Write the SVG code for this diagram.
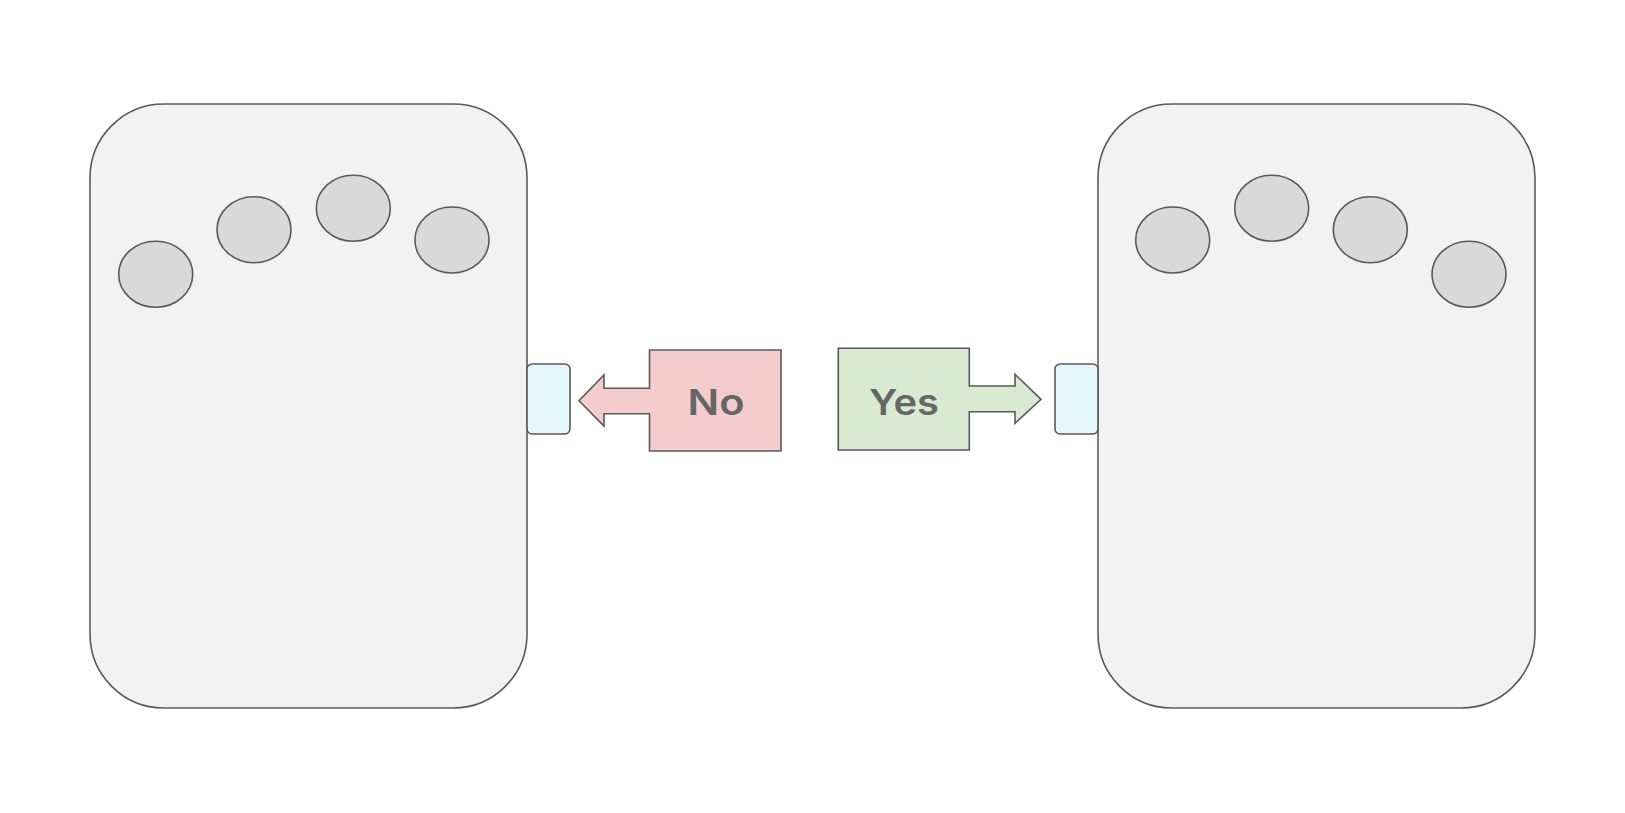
<svg xmlns="http://www.w3.org/2000/svg" width="1625" height="813" viewBox="0 0 1625 813">
<style>
.panel{fill:#f2f2f2;stroke:#595959;stroke-width:1.6}
.key{fill:#d9d9d9;stroke:#595959;stroke-width:1.6}
.port{fill:#e6f8fd;stroke:#595959;stroke-width:1.6}
.no{fill:#f4cccc;stroke:#595959;stroke-width:1.6}
.yes{fill:#d9ead3;stroke:#595959;stroke-width:1.6}
.lbl{font-family:Inter,"Noto Sans","Liberation Sans",sans-serif;font-weight:600;font-size:36px;fill:#666666;text-anchor:middle}
</style>
<rect width="1625" height="813" fill="#ffffff"/>
<g id="left-panel">
<rect class="panel" x="90" y="104" width="437" height="604" rx="74" ry="74"/>
<ellipse class="key" cx="155.7" cy="274.3" rx="37" ry="33"/>
<ellipse class="key" cx="254" cy="229.7" rx="37" ry="33"/>
<ellipse class="key" cx="353.3" cy="208.3" rx="37" ry="33"/>
<ellipse class="key" cx="452" cy="240" rx="37" ry="33"/>
</g>
<g id="right-panel">
<rect class="panel" x="1098" y="104" width="437" height="604" rx="74" ry="74"/>
<ellipse class="key" cx="1172.7" cy="240" rx="37" ry="33"/>
<ellipse class="key" cx="1271.7" cy="208.3" rx="37" ry="33"/>
<ellipse class="key" cx="1370.3" cy="229.7" rx="37" ry="33"/>
<ellipse class="key" cx="1469" cy="274.3" rx="37" ry="33"/>
</g>
<g id="left-port">
<rect class="port" x="527" y="364" width="43" height="70" rx="5" ry="5"/>
</g>
<g id="right-port">
<rect class="port" x="1055" y="364" width="43" height="70" rx="5" ry="5"/>
</g>
<g id="no-arrow">
<polygon class="no" points="649.5,350 781,350 781,451 649.5,451 649.5,413.7 604,413.7 604,426 579,400.7 604,375 604,388.3 649.5,388.3"/>
<text class="lbl" x="716" y="415" textLength="57" lengthAdjust="spacingAndGlyphs">No</text>
</g>
<g id="yes-arrow">
<polygon class="yes" points="838.3,348.3 969.3,348.3 969.3,386 1015,386 1015,374.3 1041,399.3 1015,423.3 1015,411.7 969.3,411.7 969.3,450 838.3,450"/>
<text class="lbl" x="904" y="415" textLength="70" lengthAdjust="spacingAndGlyphs">Yes</text>
</g>
<g id="connectors"></g>
</svg>
